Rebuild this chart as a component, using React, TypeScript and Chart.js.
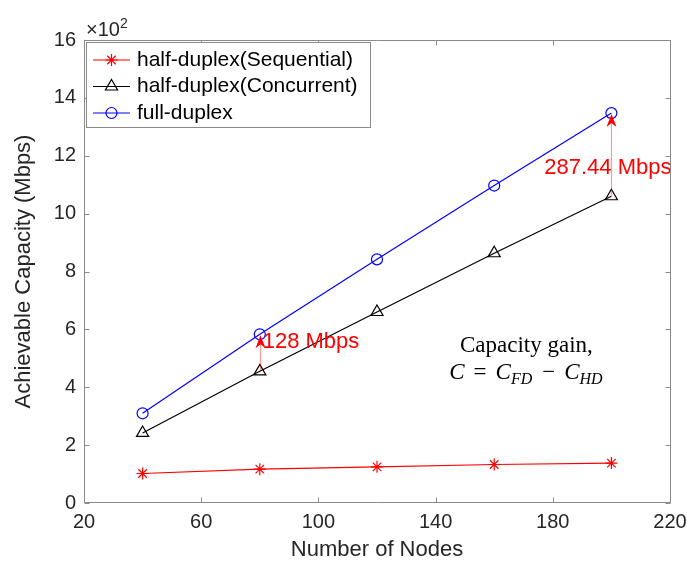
import React, { useEffect, useRef } from 'react';
import Chart from 'chart.js/auto';

const nodes = [40, 80, 120, 160, 200];
const seqCapacity = [1.02, 1.17, 1.25, 1.33, 1.38];
const concCapacity = [2.42, 4.55, 6.6, 8.63, 10.6];
const fdCapacity = [3.1, 5.83, 8.42, 10.97, 13.474];
const xTicks = [20, 60, 100, 140, 180, 220];
const yTicks = [0, 2, 4, 6, 8, 10, 12, 14, 16];
const seriesNames = ['half-duplex(Sequential)', 'half-duplex(Concurrent)', 'full-duplex'];
const seriesColors = ['#ff0000', '#000000', '#0000ff'];
const seriesMarkers = ['star', 'triangle', 'circle'];
const gainNodes = [80, 200];
const gainLabels = ['128 Mbps', '287.44 Mbps'];
const xTitle = 'Number of Nodes';
const yTitle = 'Achievable Capacity (Mbps)';
const noteLine1 = 'Capacity gain,';

const SANS = '"Liberation Sans", Arial, Helvetica, sans-serif';
const SERIF = '"Liberation Serif", "Times New Roman", serif';

function drawMarker(ctx: CanvasRenderingContext2D, style: string, x: number, y: number, r: number) {
  ctx.beginPath();
  if (style === 'circle') {
    ctx.arc(x, y, r, 0, Math.PI * 2);
  } else if (style === 'triangle') {
    const w = Math.sin((2 * Math.PI) / 3) * r;
    ctx.moveTo(x, y - r);
    ctx.lineTo(x + w, y + r / 2);
    ctx.lineTo(x - w, y + r / 2);
    ctx.closePath();
  } else {
    const d = r * Math.SQRT1_2;
    ctx.moveTo(x - r, y); ctx.lineTo(x + r, y);
    ctx.moveTo(x, y - r); ctx.lineTo(x, y + r);
    ctx.moveTo(x - d, y - d); ctx.lineTo(x + d, y + d);
    ctx.moveTo(x - d, y + d); ctx.lineTo(x + d, y - d);
  }
  ctx.stroke();
}

const decorPlugin = {
  id: 'decor',
  afterDatasetsDraw(chart: any) {
    const ctx = chart.ctx as CanvasRenderingContext2D;
    const xs = chart.scales.x;
    const ys = chart.scales.y;
    ctx.save();
    // gain arrows
    gainNodes.forEach((n) => {
      const idx = nodes.indexOf(n);
      const px = Math.round(xs.getPixelForValue(n)) + 0.5;
      const yFrom = ys.getPixelForValue(concCapacity[idx]);
      const yTo = ys.getPixelForValue(fdCapacity[idx]) + 1;
      ctx.strokeStyle = 'rgba(255,0,0,0.4)';
      ctx.lineWidth = 1.2;
      ctx.beginPath();
      ctx.moveTo(px, yFrom);
      ctx.lineTo(px, yTo + 8);
      ctx.stroke();
      ctx.fillStyle = '#ff0000';
      ctx.beginPath();
      ctx.moveTo(px, yTo);
      ctx.lineTo(px + 5, yTo + 13);
      ctx.lineTo(px, yTo + 9);
      ctx.lineTo(px - 5, yTo + 13);
      ctx.closePath();
      ctx.fill();
    });
    // gain labels
    ctx.fillStyle = '#ff0000';
    ctx.font = '22px ' + SANS;
    ctx.textBaseline = 'middle';
    ctx.textAlign = 'left';
    ctx.fillText(gainLabels[0], xs.getPixelForValue(81), ys.getPixelForValue(5.56));
    ctx.fillText(gainLabels[1], xs.getPixelForValue(177.1), ys.getPixelForValue(11.58));

    // capacity gain note
    const cx = xs.getPixelForValue(171);
    ctx.fillStyle = '#000000';
    ctx.textAlign = 'center';
    ctx.textBaseline = 'alphabetic';
    ctx.font = '23px ' + SERIF;
    ctx.fillText(noteLine1, cx, ys.getPixelForValue(5.46) + 7);
    const parts = [
      { t: 'C', it: true, sub: false, gap: 0 },
      { t: '=', it: false, sub: false, gap: 9 },
      { t: 'C', it: true, sub: false, gap: 0 },
      { t: 'FD', it: true, sub: true, gap: 0 },
      { t: '\u2212', it: false, sub: false, gap: 9 },
      { t: 'C', it: true, sub: false, gap: 0 },
      { t: 'HD', it: true, sub: true, gap: 0 },
    ];
    const fontFor = (p: any) => (p.it ? 'italic ' : '') + (p.sub ? '16px ' : '23px ') + SERIF;
    let total = 0;
    parts.forEach((p) => { ctx.font = fontFor(p); total += ctx.measureText(p.t).width + 2 * p.gap + (p.sub ? 1 : 0); });
    let x0 = cx - total / 2;
    const base2 = ys.getPixelForValue(4.53) + 7;
    ctx.textAlign = 'left';
    parts.forEach((p) => {
      ctx.font = fontFor(p);
      x0 += p.gap;
      ctx.fillText(p.t, x0, base2 + (p.sub ? 5 : 0));
      x0 += ctx.measureText(p.t).width + p.gap + (p.sub ? 1 : 0);
    });
    ctx.restore();
  },
  afterDraw(chart: any) {
    const ctx = chart.ctx as CanvasRenderingContext2D;
    const { left, right, top, bottom } = chart.chartArea;
    const xs = chart.scales.x;
    const ys = chart.scales.y;
    ctx.save();
    // axes box
    ctx.strokeStyle = '#8a8a8a';
    ctx.lineWidth = 1;
    const L = left + 0.5, R = right + 0.5, T = top + 0.5, B = bottom - 0.5;
    ctx.beginPath();
    ctx.moveTo(L, T); ctx.lineTo(R, T); ctx.lineTo(R, B); ctx.lineTo(L, B); ctx.closePath();
    ctx.stroke();
    ctx.beginPath();
    xTicks.forEach((v) => {
      const px = Math.round(xs.getPixelForValue(v)) + 0.5;
      ctx.moveTo(px, B); ctx.lineTo(px, B - 5);
      ctx.moveTo(px, T); ctx.lineTo(px, T + 5);
    });
    yTicks.forEach((v) => {
      const py = Math.round(ys.getPixelForValue(v)) + 0.5;
      ctx.moveTo(L, py); ctx.lineTo(L + 5, py);
      ctx.moveTo(R, py); ctx.lineTo(R - 5, py);
    });
    ctx.stroke();

    // exponent label
    ctx.fillStyle = '#262626';
    ctx.textAlign = 'left';
    ctx.textBaseline = 'alphabetic';
    ctx.font = '20px ' + SANS;
    ctx.fillText('\u00d710', left + 2, 36);
    const w10 = ctx.measureText('\u00d710').width;
    ctx.font = '14px ' + SANS;
    ctx.fillText('2', left + 2 + w10, 28);

    // legend
    const bx = 86.5, by = 42.5, bw = 284, bh = 85;
    ctx.fillStyle = '#ffffff';
    ctx.fillRect(bx, by, bw, bh);
    ctx.strokeStyle = '#8a8a8a';
    ctx.strokeRect(bx, by, bw, bh);
    const rows = [60, 86.5, 113];
    const radii = [6, 7, 5.5];
    seriesNames.forEach((name, i) => {
      const y = rows[i];
      ctx.strokeStyle = seriesColors[i];
      ctx.lineWidth = 1.2;
      ctx.beginPath();
      ctx.moveTo(93, y); ctx.lineTo(130, y);
      ctx.stroke();
      drawMarker(ctx, seriesMarkers[i], 111.5, y, radii[i]);
      ctx.fillStyle = '#000000';
      ctx.font = '21px ' + SANS;
      ctx.textBaseline = 'middle';
      ctx.fillText(name, 137, y);
    });
    ctx.restore();
  },
};

export default function App() {
  const ref = useRef<HTMLCanvasElement | null>(null);
  useEffect(() => {
    if (!ref.current) return;
    const mk = (data: number[], i: number, r: number) => ({
      label: seriesNames[i],
      data: nodes.map((n, k) => ({ x: n, y: data[k] })),
      borderColor: seriesColors[i],
      backgroundColor: 'rgba(0,0,0,0)',
      borderWidth: 1.2,
      pointStyle: seriesMarkers[i],
      pointRadius: r,
      pointBorderColor: seriesColors[i],
      pointBackgroundColor: 'rgba(0,0,0,0)',
      pointBorderWidth: 1.2,
      tension: 0,
      fill: false,
    });
    const chart = new Chart(ref.current, {
      type: 'line',
      data: {
        datasets: [mk(seqCapacity, 0, 6), mk(concCapacity, 1, 7), mk(fdCapacity, 2, 5.5)],
      },
      options: {
        responsive: false,
        animation: false,
        devicePixelRatio: 1,
        layout: { padding: { top: 40, right: 17, left: 0, bottom: 0 } },
        plugins: { legend: { display: false }, tooltip: { enabled: false } },
        scales: {
          x: {
            type: 'linear',
            min: 20,
            max: 220,
            afterBuildTicks: (s: any) => { s.ticks = xTicks.map((v) => ({ value: v })); },
            afterFit: (s: any) => { s.height = 58; s.paddingLeft = 0; s.paddingRight = 0; },
            grid: { display: false, drawTicks: false },
            border: { display: false },
            ticks: { color: '#262626', font: { family: SANS, size: 20 }, padding: 7, maxRotation: 0 },
            title: {
              display: true,
              text: xTitle,
              color: '#262626',
              font: { family: SANS, size: 22, lineHeight: 1 },
              padding: { top: 0, bottom: 0 },
            },
          },
          y: {
            type: 'linear',
            min: 0,
            max: 16,
            afterBuildTicks: (s: any) => { s.ticks = yTicks.map((v) => ({ value: v })); },
            afterFit: (s: any) => { s.width = 84; s.paddingTop = 0; s.paddingBottom = 0; },
            grid: { display: false, drawTicks: false },
            border: { display: false },
            ticks: { color: '#262626', font: { family: SANS, size: 20 }, padding: 8 },
            title: {
              display: true,
              text: yTitle,
              color: '#262626',
              font: { family: SANS, size: 22, lineHeight: 1 },
              padding: { top: 13, bottom: 0 },
            },
          },
        },
      },
      plugins: [decorPlugin],
    } as any);
    return () => chart.destroy();
  }, []);
  return (
    <canvas
      ref={ref}
      width={687}
      height={561}
      style={{ position: 'absolute', left: 0, top: 0, width: 687, height: 561, display: 'block', background: '#ffffff' }}
    />
  );
}
